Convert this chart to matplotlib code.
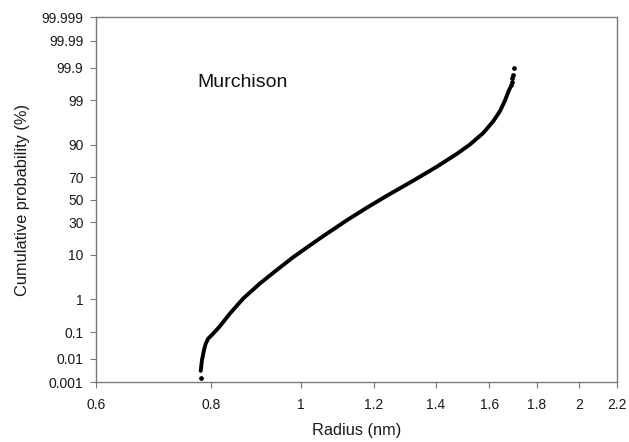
"""Cumulative probability plot of pore radius (Murchison) on a probit y axis."""

from statistics import NormalDist

import matplotlib

matplotlib.use("Agg")
import matplotlib.pyplot as plt  # noqa: E402
import numpy as np  # noqa: E402

# continuous part of the curve (radius in nm, cumulative probability in %)
radius_main = [0.7790, 0.7815, 0.7854, 0.7888, 0.7939, 0.8007, 0.8174,
               0.8381, 0.8663, 0.9032, 0.9416, 0.9814, 1.0489, 1.1209,
               1.1786, 1.2389, 1.3238, 1.4033, 1.4751, 1.5248, 1.5763,
               1.6161, 1.6433, 1.6639, 1.6777, 1.6848]
prob_main = [0.0032, 0.0090, 0.022, 0.039, 0.060, 0.078, 0.158,
             0.397, 1.06, 2.54, 5.03, 9.04, 18.4, 31.5,
             42.6, 53.7, 67.3, 78.0, 85.8, 90.2, 94.1,
             96.7, 98.1, 98.99, 99.42, 99.55]

# isolated points at both ends
radius_tail = [0.779, 1.689, 1.692, 1.694, 1.696, 1.702]
prob_tail = [0.0016, 99.63, 99.70, 99.77, 99.82, 99.90]

x_ticks = [0.6, 0.8, 1, 1.2, 1.4, 1.6, 1.8, 2, 2.2]
x_labels = ["0.6", "0.8", "1", "1.2", "1.4", "1.6", "1.8", "2", "2.2"]
y_ticks = [0.001, 0.01, 0.1, 1, 10, 30, 50, 70, 90, 99, 99.9, 99.99, 99.999]
y_labels = ["0.001", "0.01", "0.1", "1", "10", "30", "50", "70", "90",
            "99", "99.9", "99.99", "99.999"]

_nd = NormalDist()
_ppf = np.vectorize(lambda p: _nd.inv_cdf(min(max(p / 100.0, 1e-12), 1 - 1e-12)),
                    otypes=[float])
_cdf = np.vectorize(lambda z: _nd.cdf(z) * 100.0, otypes=[float])

plt.rcParams["font.family"] = ["Liberation Sans", "DejaVu Sans"]

fig = plt.figure(figsize=(6.29, 4.42), dpi=100)
ax = fig.add_axes([0.1526, 0.135, 0.8284, 0.826])

ax.plot(radius_main, prob_main, color="black", lw=2.8, solid_capstyle="round",
        solid_joinstyle="round")
ax.plot(radius_tail, prob_tail, ls="none", marker="o", ms=2.4, color="black")

ax.set_xscale("log")
ax.set_yscale("function", functions=(_ppf, _cdf))
ax.set_xlim(0.6, 2.2)
ax.set_ylim(0.001, 99.999)
ax.set_xticks(x_ticks, x_labels)
ax.set_yticks(y_ticks, y_labels)
ax.xaxis.set_minor_locator(matplotlib.ticker.NullLocator())
ax.yaxis.set_minor_locator(matplotlib.ticker.NullLocator())

for s in ax.spines.values():
    s.set_color("#7a7a7a")
    s.set_linewidth(1.0)
ax.tick_params(axis="both", colors="#7a7a7a", labelcolor="#1a1a1a",
               labelsize=10, direction="out", length=4)
ax.tick_params(axis="x", pad=7)
ax.tick_params(axis="y", pad=5)

ax.set_xlabel("Radius (nm)", fontsize=11.8, color="#1a1a1a", labelpad=8)
ax.set_ylabel("Cumulative probability (%)", fontsize=11.8, color="#1a1a1a",
              labelpad=8)
ax.text(0.195, 0.821, "Murchison", transform=ax.transAxes, ha="left",
        va="center", fontsize=14, color="#111111")

fig.savefig("out.png", dpi=100)
